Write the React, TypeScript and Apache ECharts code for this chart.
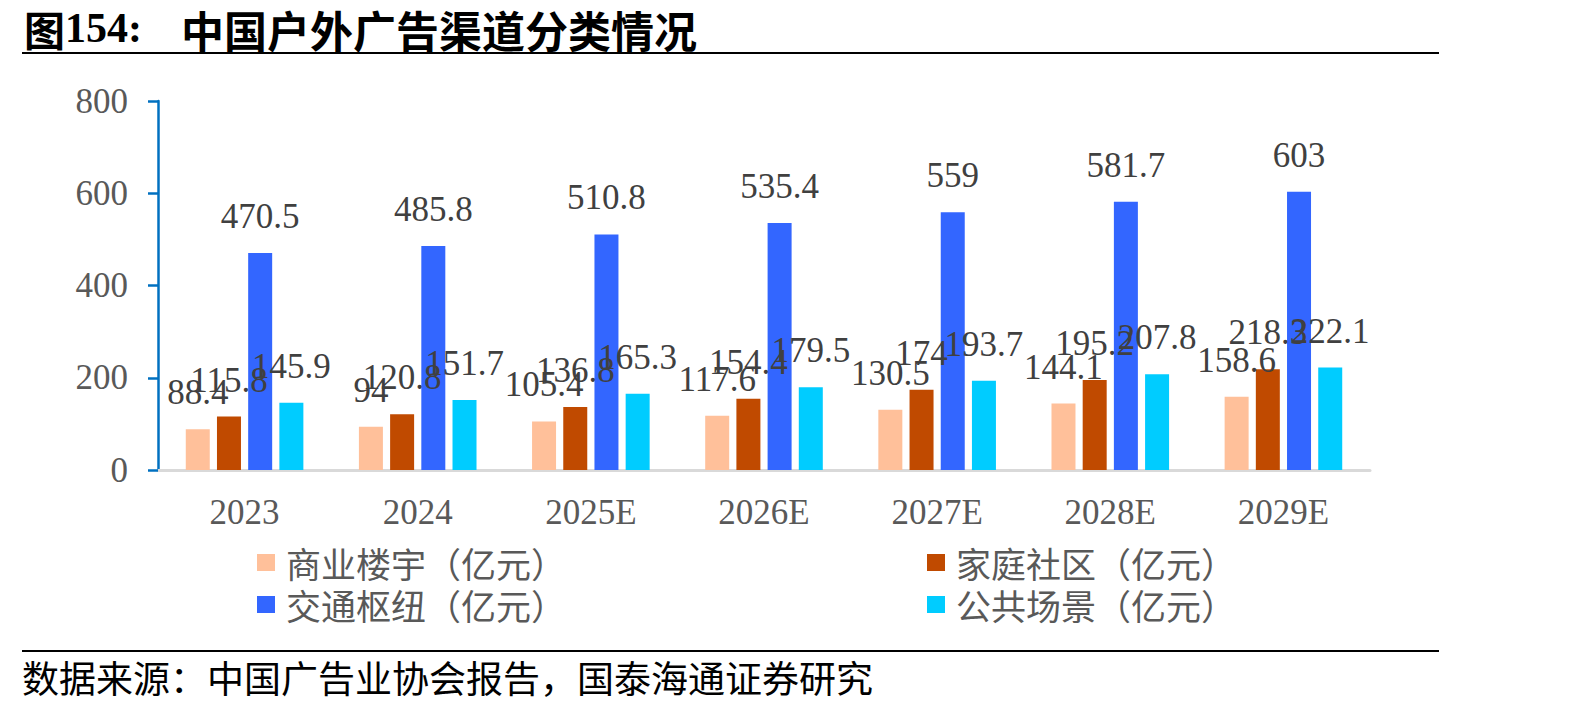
import React, { useEffect, useRef } from "react";
import * as echarts from "echarts";

const categories = ["2023", "2024", "2025E", "2026E", "2027E", "2028E", "2029E"];
const seriesNames = ["商业楼宇（亿元）", "家庭社区（亿元）", "交通枢纽（亿元）", "公共场景（亿元）"];
const commercial = [88.4, 94, 105.4, 117.6, 130.5, 144.1, 158.6];
const residential = [115.8, 120.8, 136.8, 154.4, 174, 195.2, 218.3];
const transit = [470.5, 485.8, 510.8, 535.4, 559, 581.7, 603];
const publicSpaces = [145.9, 151.7, 165.3, 179.5, 193.7, 207.8, 222.1];
const yTicks = { min: 0, max: 800, interval: 200 };
const colors = ["#FFC09A", "#C04A00", "#3366FF", "#00CCFF"];

const titlePrefix = "154:";
const titleText = "中国户外广告渠道分类情况";
const sourceText = "数据来源：中国广告业协会报告，国泰海通证券研究";

const NUM_FONT = "'Liberation Serif', 'Times New Roman', serif";
const CJK_FONT = "'Noto Sans CJK SC', sans-serif";

export default function App() {
  const ref = useRef<HTMLDivElement>(null);

  useEffect(() => {
    document.body.style.margin = "0";
    if (!ref.current) return;
    const chart = echarts.init(ref.current, null, { renderer: "svg" });

    const values = [commercial, residential, transit, publicSpaces];
    const legendPos = [
      { left: 257, top: 545 },
      { left: 927, top: 545 },
      { left: 257, top: 587 },
      { left: 927, top: 587 },
    ];

    chart.setOption({
      animation: false,
      backgroundColor: "#ffffff",
      grid: { left: 158, top: 101, width: 1212, height: 369, containLabel: false },
      legend: seriesNames.map((name, i) => ({
        data: [name],
        left: legendPos[i].left,
        top: legendPos[i].top,
        padding: 0,
        itemWidth: 18,
        itemHeight: 17,
        icon: "rect",
        selectedMode: false,
        textStyle: {
          fontFamily: CJK_FONT,
          fontSize: 35,
          color: "#595959",
          padding: [0, 0, 0, 6],
        },
      })),
      xAxis: {
        type: "category",
        data: categories,
        axisLine: { show: true, lineStyle: { color: "#D9D9D9", width: 3 } },
        axisTick: { show: false },
        axisLabel: {
          fontFamily: NUM_FONT,
          fontSize: 35,
          color: "#595959",
          margin: 25,
        },
      },
      yAxis: {
        type: "value",
        min: yTicks.min,
        max: yTicks.max,
        interval: yTicks.interval,
        axisLine: { show: true, lineStyle: { color: "#0070C0", width: 2.5 } },
        axisTick: { show: true, length: 10, lineStyle: { color: "#0070C0", width: 2.5 } },
        splitLine: { show: false },
        axisLabel: {
          fontFamily: NUM_FONT,
          fontSize: 35,
          color: "#595959",
          margin: 30,
        },
      },
      series: seriesNames.map((name, i) => ({
        name,
        type: "bar",
        data: values[i],
        barWidth: 24,
        barGap: "30%",
        itemStyle: { color: colors[i] },
        label: {
          show: true,
          position: "top",
          distance: 19,
          fontFamily: NUM_FONT,
          fontSize: 35,
          color: "#404040",
        },
      })),
      graphic: [
        {
          type: "text",
          left: 24,
          top: 7,
          style: {
            text: "{c|图}{n|" + titlePrefix + "}",
            rich: {
              c: { fontFamily: CJK_FONT, fontSize: 41, fontWeight: "bold", fill: "#000" },
              n: { fontFamily: NUM_FONT, fontSize: 42, fontWeight: "bold", fill: "#000" },
            },
          },
        },
        {
          type: "text",
          left: 181,
          top: 7,
          style: {
            text: titleText,
            fontFamily: CJK_FONT,
            fontSize: 43,
            fontWeight: "bold",
            fill: "#000",
          },
        },
        {
          type: "line",
          shape: { x1: 22, y1: 53, x2: 1439, y2: 53 },
          style: { stroke: "#000", lineWidth: 2 },
        },
        {
          type: "line",
          shape: { x1: 22, y1: 651, x2: 1439, y2: 651 },
          style: { stroke: "#000", lineWidth: 2 },
        },
        {
          type: "text",
          left: 22,
          top: 658,
          style: {
            text: sourceText,
            fontFamily: CJK_FONT,
            fontSize: 37,
            fill: "#000",
          },
        },
      ],
    });

    return () => chart.dispose();
  }, []);

  return <div ref={ref} style={{ width: 1594, height: 711 }} />;
}
